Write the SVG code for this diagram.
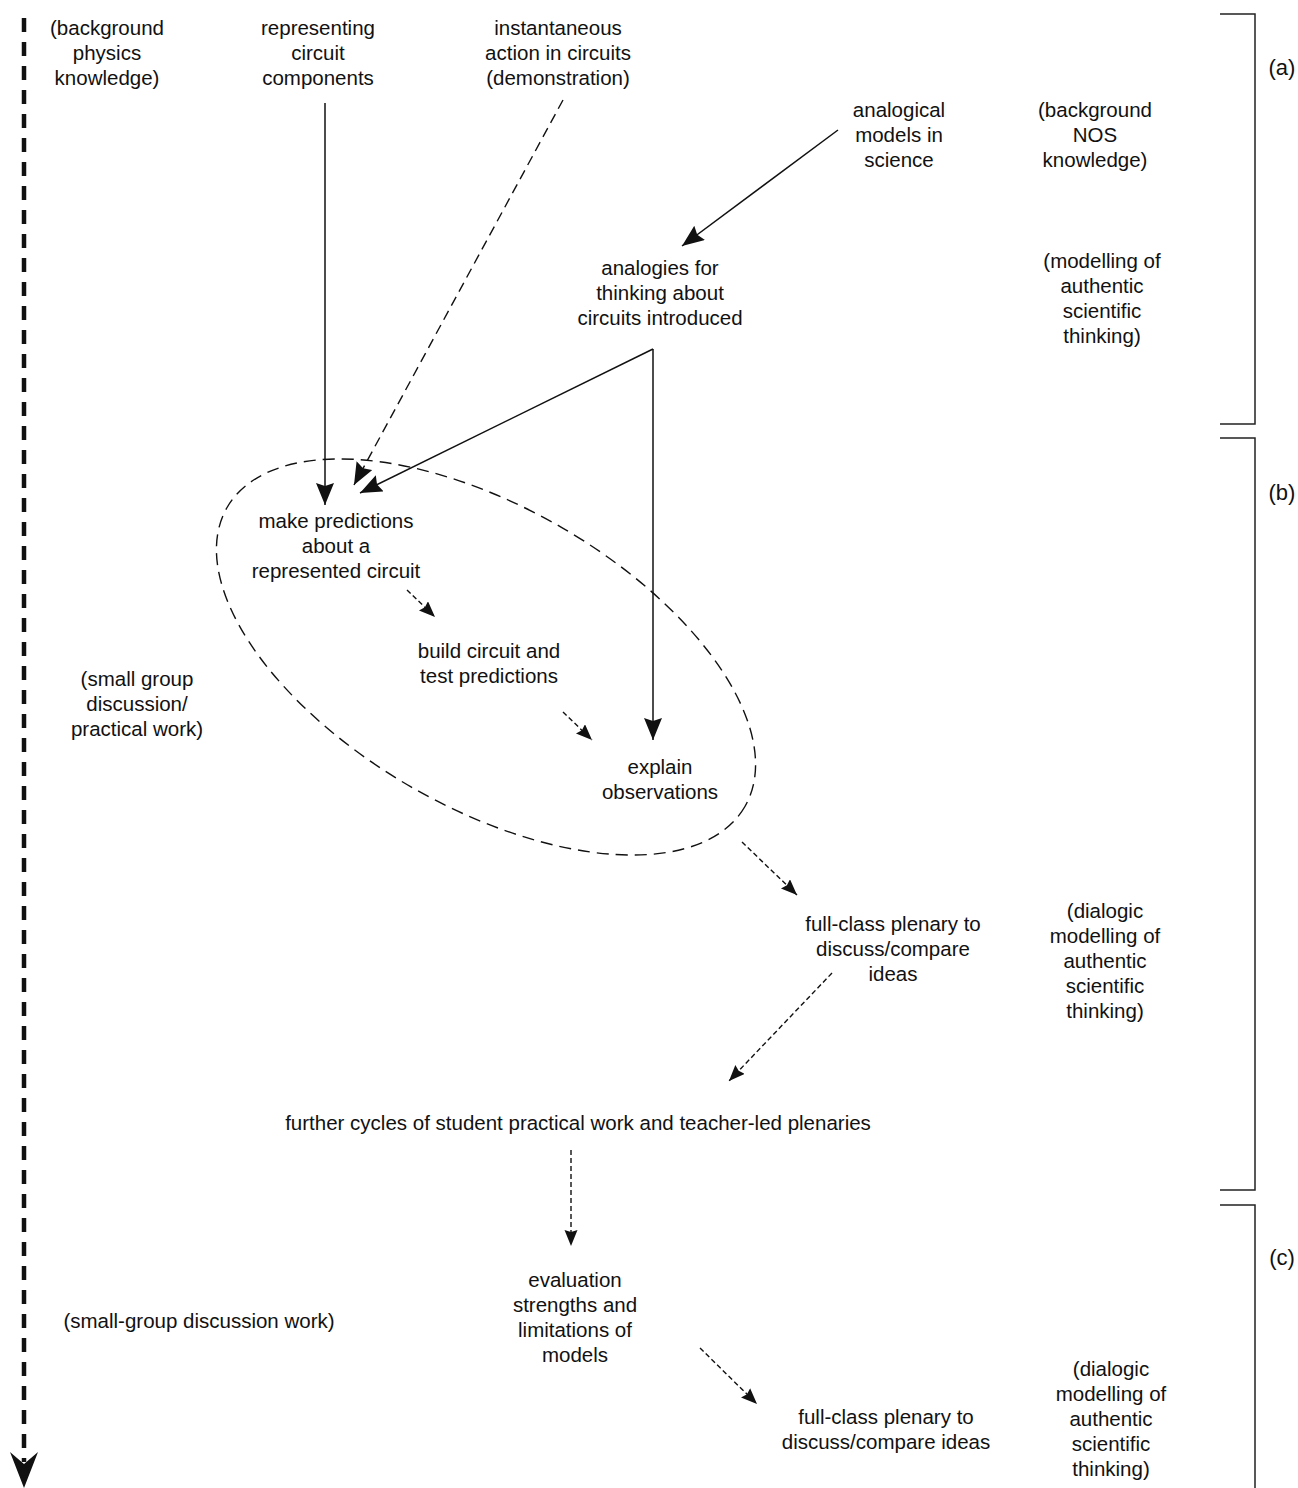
<svg xmlns="http://www.w3.org/2000/svg" width="1298" height="1488" viewBox="0 0 1298 1488">
<style>
text{font-family:"Liberation Sans",Arial,sans-serif;font-size:20.5px;fill:#111;text-anchor:middle}
.lbl{font-size:22px}
.solid{stroke:#111;stroke-width:1.5;fill:none}
.dash{stroke:#111;stroke-width:1.4;fill:none;stroke-dasharray:5 3}
.ldash{stroke:#111;stroke-width:1.4;fill:none;stroke-dasharray:10 6}
.br{stroke:#222;stroke-width:1.5;fill:none}
</style>
<defs>
<marker id="big" markerUnits="userSpaceOnUse" markerWidth="24" markerHeight="20" refX="22" refY="9" orient="auto">
<path d="M0,0 L22,9 L0,18 L3,9 Z" fill="#111"/>
</marker>
<marker id="small" markerUnits="userSpaceOnUse" markerWidth="18" markerHeight="14" refX="16" refY="6.5" orient="auto">
<path d="M0,0 L16,6.5 L0,13 L2,6.5 Z" fill="#111"/>
</marker>
</defs>
<rect width="1298" height="1488" fill="#fff"/>

<g id="axis">
<line x1="24" y1="18" x2="24" y2="1462" stroke="#111" stroke-width="4.5" stroke-dasharray="14 10"/>
<path d="M24,1488 L10,1452 L24,1464 L38,1452 Z" fill="#111"/>
</g>

<g id="brackets">
<path class="br" d="M1220,14 H1255 V424 H1220"/>
<path class="br" d="M1220,438 H1255 V1190 H1220"/>
<path class="br" d="M1220,1205 H1255 V1490"/>
<text class="lbl" x="1282" y="75">(a)</text>
<text class="lbl" x="1282" y="500">(b)</text>
<text class="lbl" x="1282" y="1265">(c)</text>
</g>

<g id="ellipse">
<ellipse cx="486" cy="657" rx="299" ry="150" transform="rotate(30 486 657)" fill="none" stroke="#111" stroke-width="1.4" stroke-dasharray="12 7"/>
</g>

<g id="connectors">
<line class="solid" x1="325" y1="103" x2="325" y2="505" marker-end="url(#big)"/>
<line class="ldash" x1="563" y1="100" x2="354" y2="485" marker-end="url(#big)"/>
<line class="solid" x1="838" y1="130" x2="682" y2="246" marker-end="url(#big)"/>
<line class="solid" x1="653" y1="349" x2="360" y2="493" marker-end="url(#big)"/>
<line class="solid" x1="653" y1="349" x2="653" y2="740" marker-end="url(#big)"/>
<line class="dash" x1="407" y1="590" x2="435" y2="617" marker-end="url(#small)"/>
<line class="dash" x1="563" y1="712" x2="592" y2="740" marker-end="url(#small)"/>
<line class="dash" x1="742" y1="842" x2="797" y2="895" marker-end="url(#small)"/>
<line class="dash" x1="832" y1="973" x2="729" y2="1081" marker-end="url(#small)"/>
<line class="dash" x1="571" y1="1150" x2="571" y2="1246" marker-end="url(#small)"/>
<line class="dash" x1="700" y1="1348" x2="757" y2="1404" marker-end="url(#small)"/>
</g>

<g id="n-bgphys"><text x="107" y="35">(background</text><text x="107" y="60">physics</text><text x="107" y="85">knowledge)</text></g>
<g id="n-repr"><text x="318" y="35">representing</text><text x="318" y="60">circuit</text><text x="318" y="85">components</text></g>
<g id="n-inst"><text x="558" y="35">instantaneous</text><text x="558" y="60">action in circuits</text><text x="558" y="85">(demonstration)</text></g>
<g id="n-anmod"><text x="899" y="117">analogical</text><text x="899" y="142">models in</text><text x="899" y="167">science</text></g>
<g id="n-bgnos"><text x="1095" y="117">(background</text><text x="1095" y="142">NOS</text><text x="1095" y="167">knowledge)</text></g>
<g id="n-analog"><text x="660" y="275">analogies for</text><text x="660" y="300">thinking about</text><text x="660" y="325">circuits introduced</text></g>
<g id="n-model1"><text x="1102" y="268">(modelling of</text><text x="1102" y="293">authentic</text><text x="1102" y="318">scientific</text><text x="1102" y="343">thinking)</text></g>
<g id="n-predict"><text x="336" y="528">make predictions</text><text x="336" y="553">about a</text><text x="336" y="578">represented circuit</text></g>
<g id="n-build"><text x="489" y="658">build circuit and</text><text x="489" y="683">test predictions</text></g>
<g id="n-small"><text x="137" y="686">(small group</text><text x="137" y="711">discussion/</text><text x="137" y="736">practical work)</text></g>
<g id="n-explain"><text x="660" y="774">explain</text><text x="660" y="799">observations</text></g>
<g id="n-plen1"><text x="893" y="931">full-class plenary to</text><text x="893" y="956">discuss/compare</text><text x="893" y="981">ideas</text></g>
<g id="n-dial1"><text x="1105" y="918">(dialogic</text><text x="1105" y="943">modelling of</text><text x="1105" y="968">authentic</text><text x="1105" y="993">scientific</text><text x="1105" y="1018">thinking)</text></g>
<g id="n-further"><text x="578" y="1130">further cycles of student practical work and teacher-led plenaries</text></g>
<g id="n-eval"><text x="575" y="1287">evaluation</text><text x="575" y="1312">strengths and</text><text x="575" y="1337">limitations of</text><text x="575" y="1362">models</text></g>
<g id="n-smallg"><text x="199" y="1328">(small-group discussion work)</text></g>
<g id="n-plen2"><text x="886" y="1424">full-class plenary to</text><text x="886" y="1449">discuss/compare ideas</text></g>
<g id="n-dial2"><text x="1111" y="1376">(dialogic</text><text x="1111" y="1401">modelling of</text><text x="1111" y="1426">authentic</text><text x="1111" y="1451">scientific</text><text x="1111" y="1476">thinking)</text></g>
</svg>
